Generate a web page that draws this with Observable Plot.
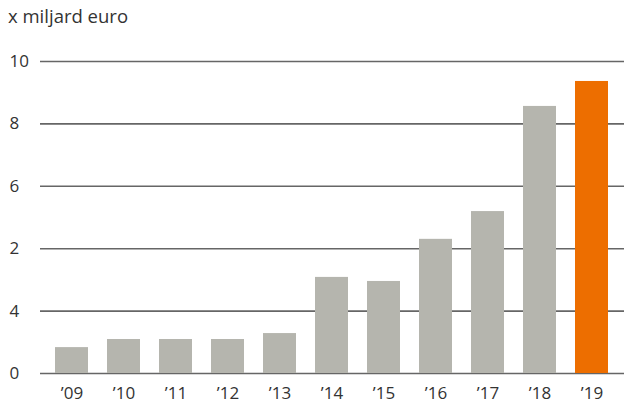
<!DOCTYPE html>
<html><head><meta charset="utf-8">
<script src="https://cdn.jsdelivr.net/npm/d3@7"></script>
<script src="https://cdn.jsdelivr.net/npm/@observablehq/plot@0.6"></script>
<style>
body{margin:0;background:#fff;font-family:"Open Sans",Lato,sans-serif;overflow:hidden;}
#title{font-size:18.5px;color:#333;padding:5px 0 0 8px;height:27px;box-sizing:border-box;line-height:21px;}
#chart svg{display:block;}
</style></head><body>
<div id="title">x miljard euro</div>
<div id="chart"></div>
<script>
const years = ["2009","2010","2011","2012","2013","2014","2015","2016","2017","2018","2019"];
const xLabels = ["’09","’10","’11","’12","’13","’14","’15","’16","’17","’18","’19"];
const values = [0.83,1.09,1.09,1.09,1.28,3.08,2.95,4.3,5.19,8.56,9.36];
const yTicks = [0,2,4,6,8,10];
const yTickLabels = ["0","4","2","6","8","10"];
const highlight = "2019";

const data = years.map((y,i)=>({year:y, value:values[i]}));
const ticks = yTicks.map((t,i)=>({t, label:yTickLabels[i]}));

const chart = Plot.plot({
  width:624, height:379,
  marginTop:34, marginBottom:33, marginLeft:40, marginRight:0,
  style:{fontFamily:"'Open Sans', Lato, sans-serif", fontSize:"17px", color:"#333"},
  x:{domain:years, range:[35.3,627.7], paddingInner:0.37, paddingOuter:0.37, axis:null},
  y:{domain:[0,10], axis:null},
  marks:[
    Plot.ruleY(yTicks,{stroke:"#666", strokeWidth:1.6}),
    Plot.barY(data,{x:"year", y:"value", fill:d=>d.year===highlight?"#ed6e00":"#b5b5ae"}),
    Plot.text(ticks,{y:"t", text:"label", frameAnchor:"left", textAnchor:"start", dx:-31, fontSize:17, fill:"#333"}),
    Plot.axisX({tickSize:0, tickPadding:13, label:null, tickFormat:(d)=>xLabels[years.indexOf(d)], fontSize:17, fill:"#333"})
  ]
});
document.getElementById("chart").appendChild(chart);
</script></body></html>
